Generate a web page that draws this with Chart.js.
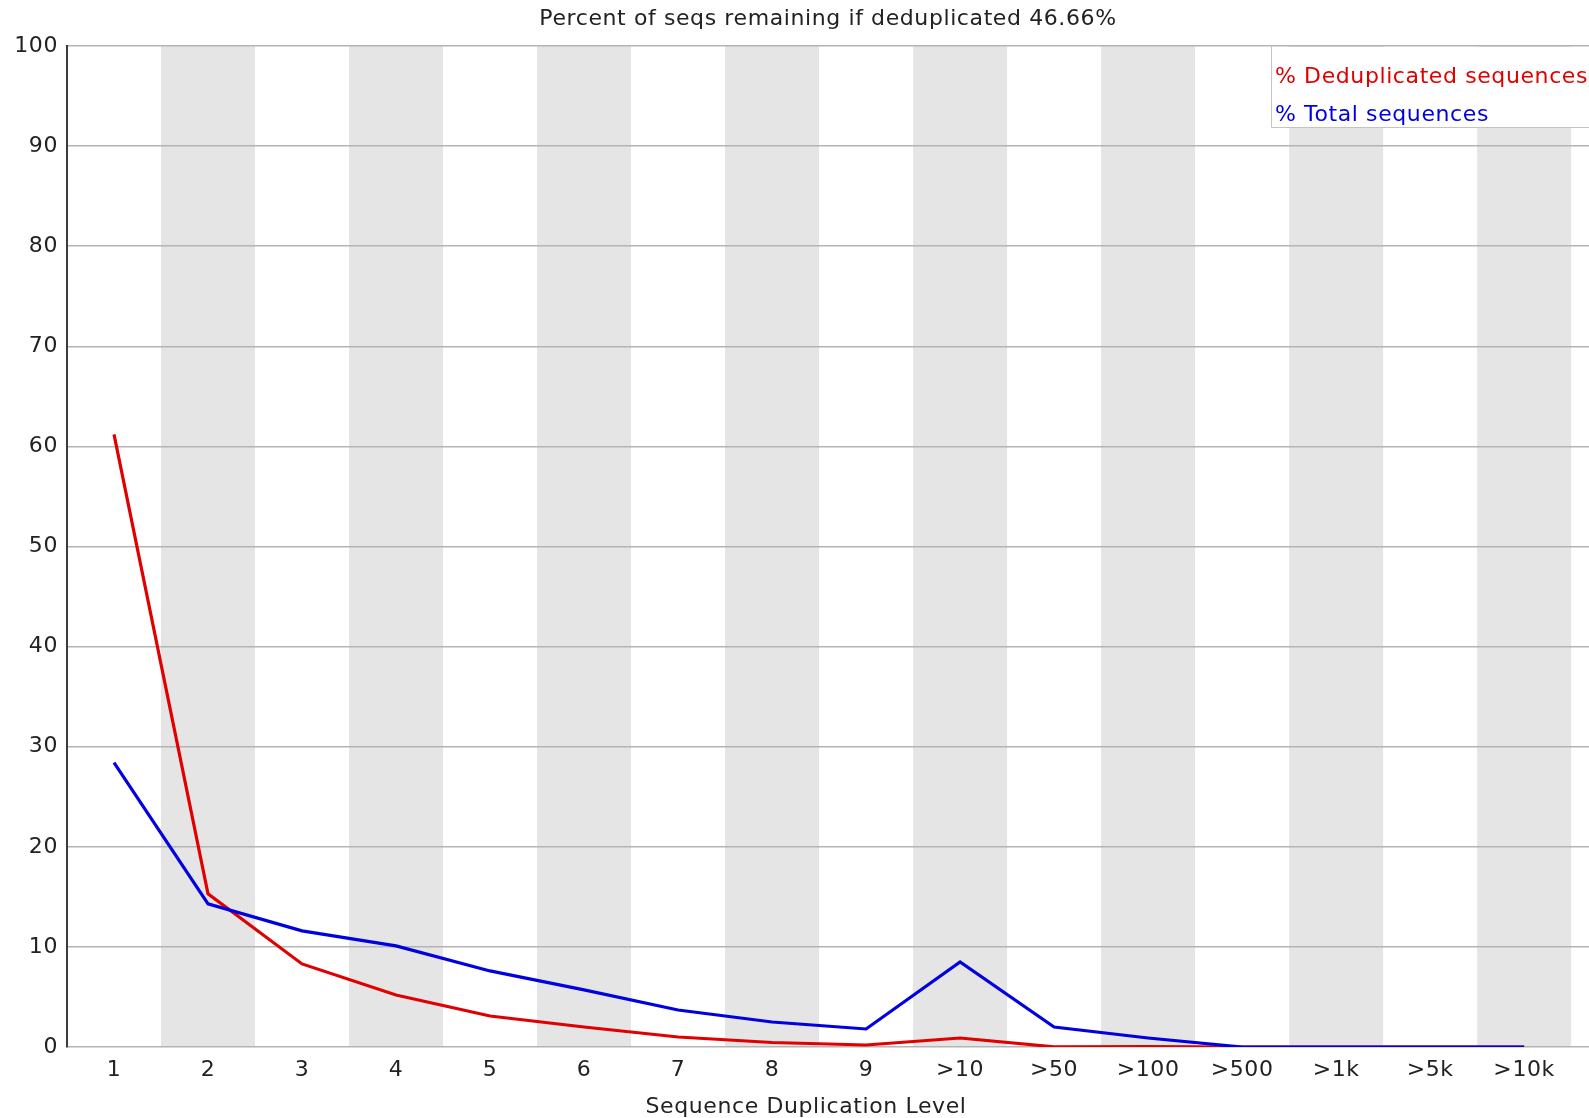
<!DOCTYPE html>
<html>
<head>
<meta charset="utf-8">
<script src="https://cdn.jsdelivr.net/npm/chart.js@4"></script>
<style>
  html, body { margin: 0; padding: 0; background: #fff; }
  #wrap { width: 1589px; height: 1118px; position: relative; }
</style>
</head>
<body>
<div id="wrap"><canvas id="chart"></canvas></div>
<script>
// Donnees
const categories = ["1","2","3","4","5","6","7","8","9",">10",">50",">100",">500",">1k",">5k",">10k"];
const dedupValues = [61.2, 15.3, 8.3, 5.2, 3.1, 2.0, 1.0, 0.45, 0.2, 0.9, 0.02, 0.03, 0, 0, 0, 0];
const totalValues = [28.4, 14.3, 11.6, 10.1, 7.6, 5.7, 3.7, 2.5, 1.8, 8.5, 2.0, 0.9, 0, 0, 0, 0];
const yTicks = [0, 10, 20, 30, 40, 50, 60, 70, 80, 90, 100];
const titleText = "Percent of seqs remaining if deduplicated 46.66%";
const xTitle = "Sequence Duplication Level";

const FONT = "'DejaVu Sans', sans-serif";
const FSIZE = 22;
const red = "rgb(225,0,0)";
const blue = "rgb(0,0,225)";
const textColor = "#222";

// espacement des lettres un peu plus large (comme le rendu Java)
const spacing = {
  id: "spacing",
  beforeUpdate(chart) { chart.ctx.letterSpacing = "0.6px"; },
  beforeDraw(chart) { chart.ctx.letterSpacing = "0.6px"; }
};

// bandes grises une categorie sur deux
const bands = {
  id: "bands",
  beforeDraw(chart) {
    const {ctx, chartArea, scales} = chart;
    ctx.save();
    ctx.fillStyle = "#e5e5e5";
    categories.forEach((c, i) => {
      if (i % 2 === 1) {
        const x0 = scales.x.getPixelForValue(i + 0.5);
        const x1 = scales.x.getPixelForValue(i + 1.5);
        ctx.fillRect(x0, chartArea.top, x1 - x0, chartArea.bottom - chartArea.top);
      }
    });
    ctx.restore();
  }
};

// titres + legende
const texts = {
  id: "texts",
  afterDraw(chart) {
    const {ctx, chartArea} = chart;
    ctx.save();
    ctx.font = FSIZE + "px " + FONT;
    ctx.textBaseline = "middle";
    ctx.textAlign = "center";
    ctx.fillStyle = textColor;
    ctx.fillText(titleText, (chartArea.left + chartArea.right) / 2, 19);
    ctx.fillText(xTitle, 806, 1107);

    // legende
    const left = 1271, top = chartArea.top, bottom = 127;
    ctx.fillStyle = "#fff";
    ctx.fillRect(left, top + 1, chart.width - left, bottom - top - 1);
    ctx.strokeStyle = "#c4c4c4";
    ctx.lineWidth = 1;
    ctx.beginPath();
    ctx.moveTo(left + 0.5, top);
    ctx.lineTo(left + 0.5, bottom + 0.5);
    ctx.lineTo(chart.width, bottom + 0.5);
    ctx.stroke();
    ctx.textAlign = "left";
    chart.data.datasets.forEach((ds, i) => {
      ctx.fillStyle = ds.borderColor;
      ctx.fillText(ds.label, left + 4, 77 + i * 38);
    });
    ctx.restore();
  }
};

new Chart(document.getElementById("chart"), {
  type: "line",
  data: {
    datasets: [
      { label: "% Deduplicated sequences", data: dedupValues.map((v, i) => ({x: i + 1, y: v})),
        borderColor: red, borderWidth: 3.2, pointRadius: 0, tension: 0, fill: false, order: 1 },
      { label: "% Total sequences", data: totalValues.map((v, i) => ({x: i + 1, y: v})),
        borderColor: blue, borderWidth: 3.2, pointRadius: 0, tension: 0, fill: false, order: 0 }
    ]
  },
  options: {
    responsive: true,
    maintainAspectRatio: false,
    animation: false,
    layout: { padding: { top: 46 } },
    plugins: {
      legend: { display: false },
      tooltip: { enabled: false },
      title: { display: false }
    },
    scales: {
      x: {
        type: "linear", min: 0.5, max: 16.69,
        afterBuildTicks: s => { s.ticks = categories.map((c, i) => ({ value: i + 1 })); },
        afterFit: s => { s.height = 71; },
        grid: { display: false, drawTicks: false },
        border: { display: false },
        ticks: {
          autoSkip: false, maxRotation: 0, padding: 10, color: textColor,
          font: { family: FONT, size: FSIZE },
          callback: v => categories[v - 1]
        }
      },
      y: {
        min: 0, max: 100,
        afterBuildTicks: s => { s.ticks = yTicks.map(v => ({ value: v })); },
        afterFit: s => { s.width = 67; },
        grid: { color: "rgb(180,180,180)", lineWidth: 1.5, drawTicks: false },
        border: { display: true, color: "#3c3c3c", width: 2 },
        ticks: { padding: 9, color: textColor, font: { family: FONT, size: FSIZE } }
      }
    }
  },
  plugins: [spacing, bands, texts]
});
</script>
</body>
</html>
